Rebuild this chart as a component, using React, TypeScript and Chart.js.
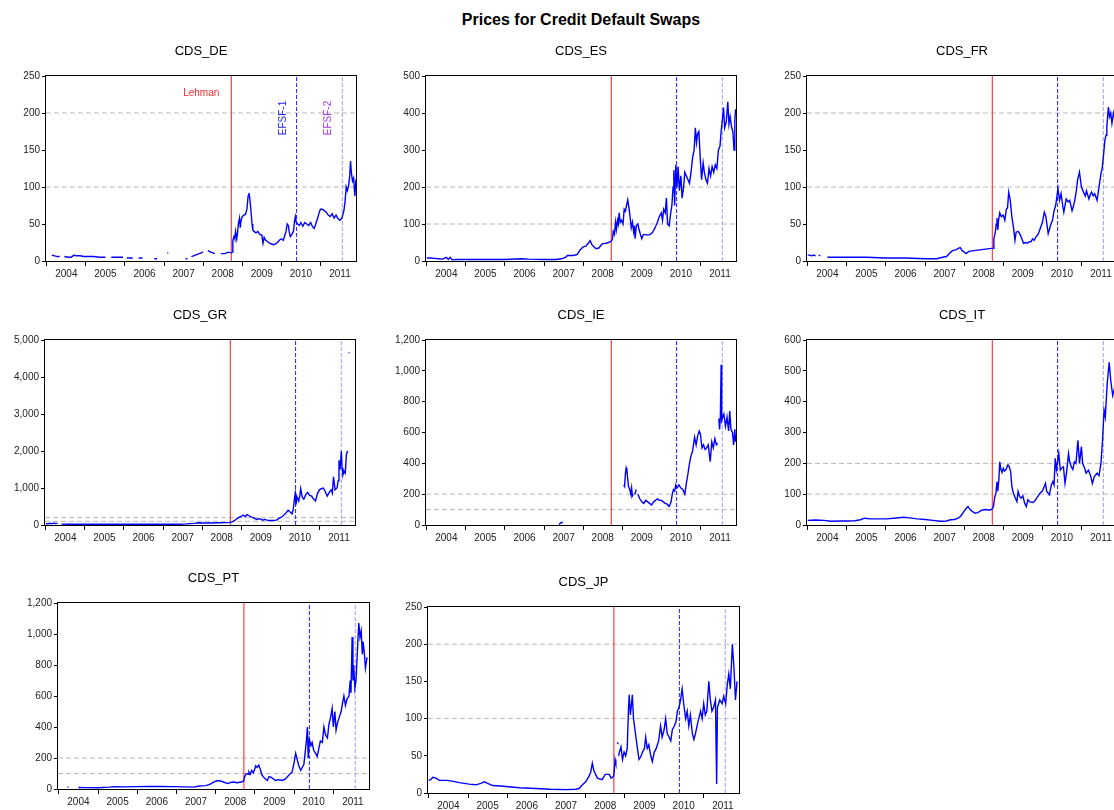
import React, { useEffect, useRef } from 'react';
import { Chart, registerables } from 'chart.js';
Chart.register(...registerables);

type P = [number, number | null];

const FONT = "'Liberation Sans', Arial, Helvetica, sans-serif";
const MAIN_TITLE = 'Prices for Credit Default Swaps';

const LEHMAN = 2008.72;
const EFSF1 = 2010.39;
const EFSF2 = 2011.56;
const X_MIN = 2003.98;
const X_MAX = 2011.91;
const YEARS = [2004, 2005, 2006, 2007, 2008, 2009, 2010, 2011];
const REF_LEVELS = [100, 200];

const CDS_DE: P[] = [
  [2004.13, 8], [2004.2, 7], [2004.27, 6], [2004.33, 6], [2004.4, null], [2004.45, 6], [2004.55, 5], [2004.62, 5],
  [2004.7, 8], [2004.75, 7], [2004.85, 7], [2004.95, 6], [2005.05, 6], [2005.2, 6], [2005.35, 5], [2005.5, 5],
  [2005.6, null], [2005.65, 5], [2005.8, 5], [2005.95, 5], [2006.0, null], [2006.05, 4], [2006.2, 4], [2006.25, null],
  [2006.35, 4], [2006.45, 4], [2006.5, null], [2006.75, 3], [2006.82, 3], [2006.85, null], [2007.08, 11], [2007.11, 11],
  [2007.13, null], [2007.55, 3], [2007.6, 3], [2007.65, null], [2007.7, 6], [2007.8, 8], [2007.9, 10], [2008.0, 12],
  [2008.05, null], [2008.12, 14], [2008.2, 12], [2008.3, 10], [2008.4, null], [2008.45, 10], [2008.55, 10], [2008.65, 12],
  [2008.72, 11], [2008.75, 12], [2008.76, 28], [2008.79, 33], [2008.81, 30], [2008.83, 40], [2008.86, 30], [2008.88, 38],
  [2008.9, 50], [2008.93, 58], [2008.95, 45], [2008.97, 55], [2009.0, 60], [2009.04, 62], [2009.08, 63], [2009.12, 70],
  [2009.15, 88], [2009.17, 92], [2009.19, 86], [2009.22, 70], [2009.25, 50], [2009.27, 42], [2009.3, 40], [2009.35, 38],
  [2009.4, 40], [2009.45, 36], [2009.5, 35], [2009.53, 24], [2009.56, 32], [2009.6, 28], [2009.65, 26], [2009.7, 24],
  [2009.75, 23], [2009.8, 22], [2009.85, 23], [2009.9, 25], [2009.95, 28], [2010.0, 30], [2010.05, 28], [2010.08, 33],
  [2010.12, 40], [2010.15, 50], [2010.18, 48], [2010.2, 40], [2010.23, 33], [2010.27, 36], [2010.31, 40], [2010.34, 55],
  [2010.36, 60], [2010.38, 52], [2010.42, 50], [2010.46, 48], [2010.5, 52], [2010.55, 47], [2010.6, 52], [2010.65, 50],
  [2010.7, 48], [2010.75, 52], [2010.8, 46], [2010.84, 44], [2010.88, 50], [2010.93, 58], [2010.97, 66], [2011.0, 70],
  [2011.05, 70], [2011.1, 68], [2011.15, 66], [2011.2, 62], [2011.25, 60], [2011.3, 64], [2011.35, 58], [2011.4, 62],
  [2011.45, 57], [2011.5, 55], [2011.55, 58], [2011.6, 68], [2011.63, 80], [2011.66, 100], [2011.69, 95], [2011.72, 102],
  [2011.75, 115], [2011.77, 135], [2011.79, 120], [2011.82, 108], [2011.85, 112], [2011.88, 88], [2011.91, 110],
];

const CDS_ES: P[] = [
  [2004.0, 8], [2004.1, 8], [2004.2, 7], [2004.3, 6], [2004.4, 5], [2004.5, 10], [2004.55, 4], [2004.6, 10],
  [2004.65, 3], [2004.75, 4], [2005.0, 4], [2005.5, 4], [2006.0, 4], [2006.4, 6], [2006.6, 5], [2007.0, 4],
  [2007.3, 4], [2007.45, 6], [2007.55, 10], [2007.6, 15], [2007.75, 15], [2007.85, 18], [2007.92, 30], [2008.0, 38],
  [2008.07, 40], [2008.13, 48], [2008.18, 55], [2008.22, 45], [2008.28, 38], [2008.33, 33], [2008.4, 35], [2008.45, 42],
  [2008.5, 47], [2008.6, 48], [2008.7, 52], [2008.73, 55], [2008.75, 60], [2008.77, 80], [2008.8, 72], [2008.83, 105],
  [2008.85, 85], [2008.88, 110], [2008.9, 100], [2008.92, 130], [2008.95, 105], [2008.98, 110], [2009.02, 100], [2009.05, 140],
  [2009.08, 135], [2009.11, 150], [2009.14, 165], [2009.17, 145], [2009.2, 120], [2009.23, 90], [2009.26, 105], [2009.29, 80],
  [2009.31, 95], [2009.33, 60], [2009.36, 95], [2009.4, 100], [2009.43, 85], [2009.47, 70], [2009.5, 60], [2009.53, 70],
  [2009.58, 72], [2009.65, 70], [2009.72, 72], [2009.78, 78], [2009.84, 90], [2009.9, 105], [2009.95, 120], [2010.0, 130],
  [2010.03, 110], [2010.06, 140], [2010.1, 130], [2010.13, 170], [2010.16, 100], [2010.2, 95], [2010.24, 130], [2010.27, 150],
  [2010.3, 200], [2010.32, 245], [2010.34, 150], [2010.37, 260], [2010.4, 200], [2010.43, 255], [2010.46, 190], [2010.5, 230],
  [2010.53, 170], [2010.57, 200], [2010.6, 240], [2010.64, 230], [2010.68, 220], [2010.72, 210], [2010.76, 240], [2010.8, 280],
  [2010.84, 300], [2010.87, 360], [2010.9, 320], [2010.93, 345], [2010.96, 350], [2011.0, 270], [2011.03, 220], [2011.07, 265],
  [2011.1, 240], [2011.14, 220], [2011.18, 210], [2011.22, 250], [2011.26, 230], [2011.3, 255], [2011.34, 240], [2011.38, 260],
  [2011.42, 250], [2011.46, 300], [2011.5, 310], [2011.53, 350], [2011.56, 380], [2011.59, 415], [2011.62, 360], [2011.66, 375],
  [2011.7, 430], [2011.73, 370], [2011.76, 390], [2011.8, 360], [2011.83, 350], [2011.86, 300], [2011.88, 380], [2011.9, 410],
];

const CDS_FR: P[] = [
  [2004.0, 8], [2004.05, 8], [2004.1, 7], [2004.15, 8], [2004.2, 7], [2004.25, null], [2004.28, 8], [2004.32, 7],
  [2004.35, null], [2004.5, 5], [2005.0, 5], [2005.5, 5], [2006.0, 4], [2006.5, 4], [2007.0, 3], [2007.3, 3],
  [2007.45, 5], [2007.55, 6], [2007.62, 10], [2007.7, 14], [2007.78, 15], [2007.85, 17], [2007.9, 18], [2007.95, 14],
  [2008.0, 12], [2008.05, 10], [2008.12, 13], [2008.25, 14], [2008.4, 15], [2008.55, 16], [2008.7, 17], [2008.74, 17],
  [2008.76, 30], [2008.78, 35], [2008.8, 40], [2008.82, 50], [2008.84, 58], [2008.86, 42], [2008.88, 55], [2008.91, 65],
  [2008.95, 60], [2009.0, 62], [2009.04, 55], [2009.08, 70], [2009.11, 72], [2009.14, 93], [2009.18, 82], [2009.22, 60],
  [2009.26, 46], [2009.3, 28], [2009.33, 39], [2009.38, 40], [2009.42, 37], [2009.46, 32], [2009.52, 24], [2009.57, 25],
  [2009.62, 24], [2009.67, 26], [2009.71, 26], [2009.75, 30], [2009.79, 28], [2009.84, 33], [2009.88, 35], [2009.92, 40],
  [2009.96, 46], [2010.0, 52], [2010.05, 66], [2010.09, 60], [2010.15, 37], [2010.22, 50], [2010.26, 55], [2010.3, 68],
  [2010.34, 75], [2010.36, 82], [2010.4, 98], [2010.44, 82], [2010.48, 91], [2010.52, 75], [2010.55, 66], [2010.58, 75],
  [2010.61, 84], [2010.66, 80], [2010.7, 82], [2010.76, 68], [2010.8, 75], [2010.83, 82], [2010.87, 95], [2010.9, 109],
  [2010.95, 120], [2011.0, 100], [2011.04, 95], [2011.07, 91], [2011.1, 88], [2011.13, 95], [2011.19, 84], [2011.23, 90],
  [2011.26, 93], [2011.3, 88], [2011.34, 91], [2011.4, 82], [2011.45, 100], [2011.5, 118], [2011.53, 125], [2011.56, 140],
  [2011.6, 163], [2011.63, 170], [2011.65, 181], [2011.69, 208], [2011.72, 195], [2011.75, 200], [2011.78, 186], [2011.82, 200],
  [2011.86, 190], [2011.9, 195],
];

const CDS_GR: P[] = [
  [2004.0, 40], [2004.05, 30], [2004.1, 45], [2004.15, 35], [2004.2, 50], [2004.25, 40], [2004.3, 45], [2004.35, null],
  [2004.4, 25], [2004.6, 22], [2005.0, 22], [2005.5, 22], [2006.0, 20], [2006.5, 20], [2007.0, 20], [2007.4, 22],
  [2007.6, 30], [2007.8, 45], [2007.9, 60], [2008.0, 55], [2008.2, 55], [2008.4, 60], [2008.6, 65], [2008.74, 70],
  [2008.78, 90], [2008.82, 110], [2008.86, 150], [2008.9, 180], [2008.95, 210], [2009.0, 230], [2009.05, 270], [2009.1, 230],
  [2009.15, 280], [2009.2, 250], [2009.25, 220], [2009.3, 200], [2009.35, 170], [2009.4, 150], [2009.45, 170], [2009.5, 160],
  [2009.55, 130], [2009.6, 150], [2009.7, 120], [2009.8, 120], [2009.9, 130], [2010.0, 200], [2010.05, 230], [2010.1, 280],
  [2010.15, 330], [2010.2, 400], [2010.25, 350], [2010.3, 300], [2010.33, 420], [2010.36, 700], [2010.38, 850], [2010.4, 550],
  [2010.43, 750], [2010.47, 650], [2010.5, 800], [2010.52, 980], [2010.56, 750], [2010.6, 700], [2010.65, 820], [2010.7, 880],
  [2010.75, 800], [2010.8, 780], [2010.85, 700], [2010.9, 650], [2010.95, 850], [2011.0, 950], [2011.05, 980], [2011.1, 1000],
  [2011.15, 900], [2011.2, 780], [2011.25, 880], [2011.3, 950], [2011.33, 860], [2011.36, 1300], [2011.4, 950], [2011.45, 1000],
  [2011.48, 1200], [2011.5, 1750], [2011.53, 1500], [2011.56, 2000], [2011.58, 1550], [2011.6, 1350], [2011.63, 1450], [2011.66, 1400],
  [2011.69, 1900], [2011.72, 2000], [2011.73, null], [2011.745, 4660], [2011.77, 4650],
];

const CDS_IE: P[] = [
  [2007.38, 3], [2007.42, 12], [2007.45, 18], [2007.48, 15], [2007.5, null],
  [2009.04, 260], [2009.06, 250], [2009.08, 330], [2009.1, 370], [2009.12, 350], [2009.14, 300], [2009.16, 250], [2009.18, 240],
  [2009.2, 220], [2009.22, 200], [2009.24, 240], [2009.26, 190], [2009.28, 200], [2009.3, null], [2009.32, 200], [2009.36, 230],
  [2009.38, null], [2009.4, 200], [2009.45, 170], [2009.5, 150], [2009.55, 140], [2009.6, 160], [2009.65, 150], [2009.7, 140],
  [2009.75, 130], [2009.8, 150], [2009.85, 160], [2009.9, 170], [2009.95, 160], [2010.0, 160], [2010.05, 150], [2010.1, 140],
  [2010.15, 135], [2010.2, 120], [2010.25, 150], [2010.28, 200], [2010.31, 230], [2010.34, 220], [2010.37, 260], [2010.4, 240],
  [2010.45, 260], [2010.5, 240], [2010.55, 230], [2010.6, 200], [2010.64, 270], [2010.68, 330], [2010.72, 400], [2010.76, 450],
  [2010.8, 480], [2010.85, 570], [2010.89, 520], [2010.93, 580], [2010.97, 610], [2011.0, 590], [2011.04, 500], [2011.08, 520],
  [2011.12, 490], [2011.16, 500], [2011.2, 520], [2011.25, 410], [2011.29, 540], [2011.33, 500], [2011.37, 560], [2011.41, 520],
  [2011.44, 530], [2011.46, null], [2011.47, 690], [2011.49, 620], [2011.51, 700], [2011.53, 1040], [2011.545, 680], [2011.57, 700],
  [2011.6, 720], [2011.64, 640], [2011.68, 700], [2011.72, 610], [2011.75, 740], [2011.78, 620], [2011.82, 600], [2011.85, 520],
  [2011.88, 620], [2011.9, 540],
];

const CDS_IT: P[] = [
  [2004.0, 15], [2004.2, 16], [2004.4, 15], [2004.6, 12], [2004.8, 13], [2005.0, 13], [2005.2, 14], [2005.35, 17],
  [2005.45, 22], [2005.6, 20], [2005.8, 20], [2006.0, 20], [2006.2, 22], [2006.45, 25], [2006.6, 23], [2006.8, 20],
  [2007.0, 18], [2007.2, 15], [2007.4, 12], [2007.55, 13], [2007.65, 17], [2007.75, 18], [2007.85, 22], [2007.92, 30],
  [2008.0, 45], [2008.06, 55], [2008.1, 60], [2008.15, 50], [2008.2, 45], [2008.28, 38], [2008.35, 40], [2008.45, 48],
  [2008.55, 50], [2008.65, 48], [2008.72, 52], [2008.75, 60], [2008.78, 90], [2008.81, 100], [2008.84, 140], [2008.86, 110],
  [2008.89, 150], [2008.91, 205], [2008.94, 180], [2008.97, 170], [2009.0, 184], [2009.03, 175], [2009.07, 180], [2009.12, 195],
  [2009.15, 190], [2009.19, 173], [2009.22, 125], [2009.26, 103], [2009.3, 90], [2009.35, 76], [2009.38, 109], [2009.42, 92],
  [2009.46, 87], [2009.5, 95], [2009.55, 70], [2009.59, 60], [2009.63, 82], [2009.68, 75], [2009.76, 73], [2009.82, 80],
  [2009.88, 92], [2009.94, 103], [2010.0, 110], [2010.05, 125], [2010.08, 135], [2010.11, 110], [2010.15, 103], [2010.18, 98],
  [2010.23, 130], [2010.27, 141], [2010.3, 130], [2010.33, 216], [2010.36, 180], [2010.42, 232], [2010.46, 178], [2010.5, 185],
  [2010.54, 189], [2010.58, 135], [2010.62, 170], [2010.67, 232], [2010.7, 205], [2010.74, 189], [2010.78, 180], [2010.82, 205],
  [2010.86, 200], [2010.91, 275], [2010.95, 200], [2011.0, 254], [2011.03, 200], [2011.08, 185], [2011.12, 168], [2011.18, 178],
  [2011.24, 157], [2011.28, 135], [2011.33, 157], [2011.4, 168], [2011.45, 160], [2011.5, 200], [2011.54, 275], [2011.58, 372],
  [2011.61, 351], [2011.66, 458], [2011.71, 528], [2011.75, 469], [2011.8, 420], [2011.84, 440], [2011.88, 410], [2011.9, 420],
];

const CDS_PT: P[] = [
  [2004.22, 12], [2004.25, 12], [2004.27, null], [2004.5, 10], [2004.7, 9], [2005.0, 8], [2005.3, 12], [2005.4, 15],
  [2005.7, 14], [2006.0, 15], [2006.3, 16], [2006.6, 17], [2006.9, 15], [2007.2, 14], [2007.45, 12], [2007.55, 18],
  [2007.65, 20], [2007.75, 22], [2007.85, 30], [2007.95, 45], [2008.05, 55], [2008.12, 52], [2008.2, 45], [2008.3, 35],
  [2008.38, 42], [2008.45, 45], [2008.55, 40], [2008.65, 45], [2008.71, 50], [2008.74, 80], [2008.77, 95], [2008.8, 100],
  [2008.83, 95], [2008.85, 110], [2008.88, 95], [2008.92, 120], [2008.96, 105], [2009.0, 130], [2009.02, 150], [2009.06, 140],
  [2009.1, 155], [2009.14, 125], [2009.18, 90], [2009.23, 75], [2009.27, 65], [2009.32, 55], [2009.36, 80], [2009.42, 75],
  [2009.5, 60], [2009.53, 55], [2009.6, 60], [2009.7, 55], [2009.78, 65], [2009.87, 90], [2009.95, 110], [2010.0, 170],
  [2010.04, 230], [2010.08, 190], [2010.12, 150], [2010.17, 120], [2010.21, 140], [2010.25, 160], [2010.28, 230], [2010.31, 300],
  [2010.34, 400], [2010.36, 200], [2010.39, 320], [2010.43, 280], [2010.46, 300], [2010.5, 250], [2010.55, 230], [2010.59, 210],
  [2010.63, 260], [2010.67, 310], [2010.72, 300], [2010.76, 400], [2010.8, 350], [2010.85, 330], [2010.89, 420], [2010.93, 460],
  [2010.97, 520], [2011.0, 400], [2011.04, 500], [2011.07, 380], [2011.11, 430], [2011.16, 470], [2011.2, 500], [2011.24, 560],
  [2011.27, 600], [2011.31, 540], [2011.35, 580], [2011.4, 600], [2011.43, 700], [2011.45, 620], [2011.48, 980], [2011.5, 700],
  [2011.52, 800], [2011.55, 650], [2011.58, 700], [2011.61, 870], [2011.65, 1070], [2011.68, 980], [2011.71, 1020], [2011.74, 870],
  [2011.76, 950], [2011.79, 880], [2011.82, 780], [2011.86, 850],
];

const CDS_JP: P[] = [
  [2004.0, 17], [2004.05, 18], [2004.1, 21], [2004.18, 20], [2004.27, 17], [2004.45, 17], [2004.6, 16], [2004.78, 14],
  [2005.03, 12], [2005.2, 11], [2005.33, 13], [2005.42, 15], [2005.5, 13], [2005.63, 10], [2005.9, 9], [2006.31, 7],
  [2006.73, 6], [2007.1, 5], [2007.5, 4.5], [2007.75, 5], [2007.83, 6], [2007.9, 10], [2008.0, 15], [2008.08, 22],
  [2008.13, 28], [2008.17, 40], [2008.21, 30], [2008.3, 20], [2008.42, 18], [2008.5, 25], [2008.6, 25], [2008.65, 20],
  [2008.71, 22], [2008.73, 30], [2008.75, 45], [2008.77, 40], [2008.79, null], [2008.8, 68], [2008.82, 67], [2008.83, null],
  [2008.84, 50], [2008.86, 55], [2008.9, 62], [2008.94, 45], [2008.98, 55], [2009.02, 50], [2009.06, 60], [2009.09, 110],
  [2009.11, 132], [2009.14, 105], [2009.17, 120], [2009.19, 132], [2009.22, 100], [2009.27, 80], [2009.32, 60], [2009.36, 45],
  [2009.4, 48], [2009.45, 55], [2009.5, 60], [2009.53, 75], [2009.57, 60], [2009.61, 65], [2009.66, 50], [2009.7, 42],
  [2009.75, 55], [2009.8, 60], [2009.86, 70], [2009.91, 90], [2009.95, 75], [2010.0, 85], [2010.04, 100], [2010.08, 80],
  [2010.13, 75], [2010.17, 70], [2010.21, 85], [2010.26, 90], [2010.3, 95], [2010.34, 110], [2010.38, 115], [2010.42, 125],
  [2010.46, 140], [2010.5, 120], [2010.55, 100], [2010.59, 110], [2010.63, 90], [2010.67, 105], [2010.72, 80], [2010.76, 72],
  [2010.8, 80], [2010.86, 95], [2010.93, 110], [2010.97, 100], [2011.01, 120], [2011.05, 105], [2011.09, 110], [2011.14, 150],
  [2011.18, 125], [2011.22, 110], [2011.26, 115], [2011.31, 125], [2011.34, 12], [2011.36, 115], [2011.42, 125], [2011.48, 120],
  [2011.52, 130], [2011.57, 120], [2011.61, 145], [2011.65, 160], [2011.69, 140], [2011.74, 200], [2011.78, 170], [2011.82, 125],
  [2011.86, 150],
];

interface PanelSpec {
  title: string;
  data: P[];
  yMax: number;
  yStep: number;
  left: number;
  top: number;
  width: number;
  height: number;
  eventLabels?: boolean;
}

const PANELS: PanelSpec[] = [
  { title: 'CDS_DE', data: CDS_DE, yMax: 250, yStep: 50, left: 46, top: 76, width: 310, height: 185, eventLabels: true },
  { title: 'CDS_ES', data: CDS_ES, yMax: 500, yStep: 100, left: 426, top: 76, width: 310, height: 185 },
  { title: 'CDS_FR', data: CDS_FR, yMax: 250, yStep: 50, left: 807, top: 76, width: 310, height: 185 },
  { title: 'CDS_GR', data: CDS_GR, yMax: 5000, yStep: 1000, left: 45, top: 340, width: 310, height: 185 },
  { title: 'CDS_IE', data: CDS_IE, yMax: 1200, yStep: 200, left: 426, top: 340, width: 310, height: 185 },
  { title: 'CDS_IT', data: CDS_IT, yMax: 600, yStep: 100, left: 807, top: 340, width: 310, height: 185 },
  { title: 'CDS_PT', data: CDS_PT, yMax: 1200, yStep: 200, left: 58, top: 603, width: 311, height: 186 },
  { title: 'CDS_JP', data: CDS_JP, yMax: 250, yStep: 50, left: 428, top: 607, width: 311, height: 186 },
];

const AXIS_W = 50;
const TITLE_H = 40;
const XAXIS_H = 26;
const RIGHT_PAD = 8;

const framePlugin = {
  id: 'frame',
  afterDatasetsDraw(chart: any) {
    const { ctx, chartArea } = chart;
    ctx.save();
    ctx.strokeStyle = '#000';
    ctx.lineWidth = 1;
    ctx.strokeRect(
      Math.round(chartArea.left) - 0.5,
      Math.round(chartArea.top) - 0.5,
      Math.round(chartArea.right - chartArea.left) + 1,
      Math.round(chartArea.bottom - chartArea.top) + 1
    );
    ctx.restore();
  },
};

const eventLabelPlugin = {
  id: 'eventLabels',
  afterDatasetsDraw(chart: any, _args: any, opts: any) {
    if (!opts || !opts.show) return;
    const { ctx, chartArea, scales } = chart;
    const xs = scales.x;
    ctx.save();
    ctx.font = `10px ${FONT}`;
    ctx.textBaseline = 'middle';
    ctx.fillStyle = '#ff2a2a';
    ctx.textAlign = 'right';
    ctx.fillText('Lehman', xs.getPixelForValue(LEHMAN) - 12, chartArea.top + 17);
    const vert = (text: string, date: number, color: string, off: number) => {
      ctx.save();
      ctx.translate(xs.getPixelForValue(date) - off, chartArea.top + 42);
      ctx.rotate(-Math.PI / 2);
      ctx.textAlign = 'center';
      ctx.fillStyle = color;
      ctx.fillText(text, 0, 0);
      ctx.restore();
    };
    vert('EFSF-1', EFSF1, '#2424ff', 13);
    vert('EFSF-2', EFSF2, '#a633f5', 14);
    ctx.restore();
  },
};

function Panel({ spec }: { spec: PanelSpec }) {
  const ref = useRef<HTMLCanvasElement | null>(null);
  const cw = spec.width + AXIS_W + RIGHT_PAD;
  const ch = spec.height + TITLE_H + XAXIS_H;

  useEffect(() => {
    if (!ref.current) return;
    const xTicks: { value: number }[] = [];
    YEARS.forEach((y) => {
      xTicks.push({ value: y });
      xTicks.push({ value: y + 0.5 });
    });
    const vline = (x: number, color: string, dash: number[], order: number) => ({
      data: [{ x, y: 0 }, { x, y: spec.yMax }],
      borderColor: color,
      borderWidth: 1,
      borderDash: dash,
      pointRadius: 0,
      order,
    });
    const hlines = REF_LEVELS.map((lv) => ({
      data: [{ x: X_MIN, y: lv }, { x: X_MAX, y: lv }],
      borderColor: '#b9b9b9',
      borderWidth: 1,
      borderDash: [5, 3],
      pointRadius: 0,
      order: 4,
    }));
    const chart = new Chart(ref.current, {
      type: 'line',
      data: {
        datasets: [
          {
            data: spec.data.map(([x, y]) => ({ x, y })),
            borderColor: '#0000ff',
            borderWidth: 1.4,
            pointRadius: 0,
            spanGaps: false,
            tension: 0,
            order: 0,
          } as any,
          vline(LEHMAN, '#ff1a1a', [], 1),
          vline(EFSF1, '#1f1fff', [4, 2], 2),
          vline(EFSF2, '#9a9aff', [4, 2], 3),
          ...hlines,
        ],
      },
      options: {
        animation: false,
        responsive: false,
        devicePixelRatio: 1,
        events: [],
        layout: { padding: { left: 0, right: RIGHT_PAD, top: 0, bottom: 0 } },
        plugins: {
          legend: { display: false },
          tooltip: { enabled: false },
          title: {
            display: true,
            text: spec.title,
            fullSize: false,
            color: '#000',
            font: { family: FONT, size: 13, weight: 'normal', lineHeight: 1.2 },
            padding: { top: 7.5, bottom: 16.9 },
          },
          eventLabels: { show: !!spec.eventLabels },
        } as any,
        scales: {
          x: {
            type: 'linear',
            min: X_MIN,
            max: X_MAX,
            afterBuildTicks: (axis: any) => {
              axis.ticks = xTicks.map((t) => ({ ...t }));
            },
            afterFit: (axis: any) => {
              axis.height = XAXIS_H;
            },
            ticks: {
              autoSkip: false,
              maxRotation: 0,
              minRotation: 0,
              padding: 2,
              color: '#222',
              font: { family: FONT, size: 10 },
              callback: (v: any) => {
                const n = Number(v);
                return Math.abs(n - Math.floor(n) - 0.5) < 1e-6 ? String(Math.floor(n)) : '';
              },
            },
            grid: {
              drawOnChartArea: false,
              drawTicks: true,
              tickLength: 5,
              color: (c: any) => {
                const v = c.tick ? c.tick.value : 0.5;
                return Math.abs(v - Math.round(v)) < 1e-6 ? '#000' : 'rgba(0,0,0,0)';
              },
            },
            border: { display: false },
          },
          y: {
            min: 0,
            max: spec.yMax,
            afterFit: (axis: any) => {
              axis.width = AXIS_W;
            },
            ticks: {
              stepSize: spec.yStep,
              padding: 2,
              color: '#222',
              font: { family: FONT, size: 10 },
              callback: (v: any) => Number(v).toLocaleString('en-US'),
            },
            grid: { drawOnChartArea: false, drawTicks: true, tickLength: 4, color: '#000' },
            border: { display: false },
          },
        },
      } as any,
      plugins: [framePlugin, eventLabelPlugin],
    });
    return () => chart.destroy();
  }, [spec]);

  return (
    <canvas
      ref={ref}
      width={cw}
      height={ch}
      style={{
        position: 'absolute',
        left: spec.left - AXIS_W,
        top: spec.top - TITLE_H,
        width: cw,
        height: ch,
      }}
    />
  );
}

export default function App() {
  return (
    <div
      style={{
        position: 'fixed',
        left: 0,
        top: 0,
        width: 1114,
        height: 810,
        overflow: 'hidden',
        background: '#fff',
      }}
    >
      <div
        style={{
          position: 'absolute',
          left: 381,
          top: 11,
          width: 400,
          textAlign: 'center',
          fontFamily: FONT,
          fontWeight: 'bold',
          fontSize: 16,
          lineHeight: '18px',
          color: '#000',
        }}
      >
        {MAIN_TITLE}
      </div>
      {PANELS.map((p) => (
        <Panel key={p.title} spec={p} />
      ))}
    </div>
  );
}
